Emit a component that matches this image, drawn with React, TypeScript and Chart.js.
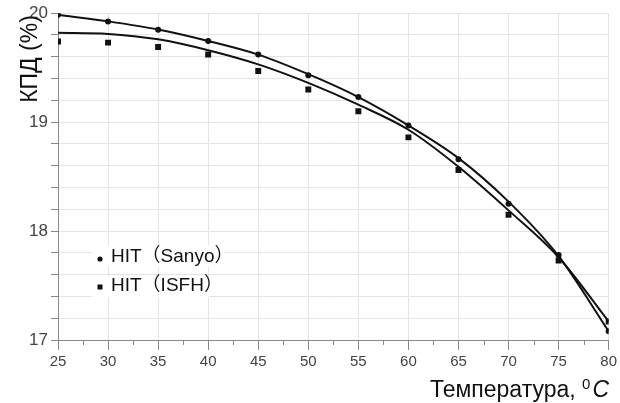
import React, { useEffect, useRef } from "react";
import { Chart, registerables } from "chart.js";

Chart.register(...registerables);

const temps = [25, 30, 35, 40, 45, 50, 55, 60, 65, 70, 75, 80];
const sanyoPoints = [19.985, 19.924, 19.848, 19.745, 19.62, 19.43, 19.23, 18.97, 18.66, 18.25, 17.78, 17.08];
const isfhPoints = [19.74, 19.73, 19.69, 19.62, 19.47, 19.3, 19.1, 18.86, 18.56, 18.15, 17.73, 17.17];
const sanyoFit = [19.985, 19.925, 19.85, 19.745, 19.62, 19.44, 19.23, 18.97, 18.67, 18.27, 17.77, 17.08];
const isfhFit = [19.82, 19.81, 19.76, 19.66, 19.53, 19.36, 19.16, 18.93, 18.59, 18.19, 17.76, 17.17];
const yTicksMajor = [17, 18, 19, 20];
const legendLabels = ["HIT（Sanyo）", "HIT（ISFH）"];
const xTitle = "Температура, ";
const xTitleSup = "0";
const xTitleUnit = "C";
const yTitle = "КПД (%)";

const FONT = '"Liberation Sans", Arial, "Noto Sans CJK JP", sans-serif';

const toXY = (ys: number[]) => temps.map((t, i) => ({ x: t, y: ys[i] }));

const decorPlugin = {
  id: "decor",
  afterDraw(chart: any) {
    const ctx = chart.ctx as CanvasRenderingContext2D;
    const xs = chart.scales.x;
    const area = chart.chartArea;
    ctx.save();
    // minor x ticks
    ctx.strokeStyle = "#888";
    ctx.lineWidth = 1;
    xs.ticks.forEach((t: any) => {
      const v = t.value + 2.5;
      if (v < xs.max) {
        const px = Math.round(xs.getPixelForValue(v)) + 0.5;
        ctx.beginPath();
        ctx.moveTo(px, area.bottom);
        ctx.lineTo(px, area.bottom + 5);
        ctx.stroke();
      }
    });
    // y title
    ctx.fillStyle = "#111";
    ctx.save();
    ctx.translate(31, 59);
    ctx.rotate(-Math.PI / 2);
    ctx.font = `23px ${FONT}`;
    ctx.textAlign = "center";
    ctx.textBaseline = "middle";
    ctx.fillText(yTitle, 0, 0);
    ctx.restore();
    // x title
    const f1 = `23px ${FONT}`;
    const f2 = `15px ${FONT}`;
    const f3 = `italic 23px ${FONT}`;
    ctx.font = f1;
    const w1 = ctx.measureText(xTitle).width;
    ctx.font = f2;
    const w2 = ctx.measureText(xTitleSup).width;
    ctx.font = f3;
    const w3 = ctx.measureText(xTitleUnit).width;
    const total = w1 + w2 + 2 + w3;
    let sx = 609 - total;
    const base = 397;
    ctx.textAlign = "left";
    ctx.textBaseline = "alphabetic";
    ctx.font = f1;
    ctx.fillText(xTitle, sx, base);
    sx += w1;
    ctx.font = f2;
    ctx.fillText(xTitleSup, sx, base - 8);
    sx += w2 + 2;
    ctx.font = f3;
    ctx.fillText(xTitleUnit, sx, base);
    // legend
    ctx.fillStyle = "#fff";
    ctx.fillRect(92, 245, 132, 22);
    ctx.fillRect(92, 277, 117, 20);
    ctx.fillStyle = "#111";
    ctx.beginPath();
    ctx.arc(100, 259, 2.6, 0, Math.PI * 2);
    ctx.fill();
    ctx.fillRect(97.5, 284.5, 5, 5);
    ctx.font = `19px ${FONT}`;
    ctx.textBaseline = "middle";
    ctx.fillText(legendLabels[0], 111, 257);
    ctx.fillText(legendLabels[1], 111, 286);
    ctx.restore();
  },
};

export default function App() {
  const ref = useRef<HTMLCanvasElement>(null);
  useEffect(() => {
    document.body.style.margin = "0";
    const canvas = ref.current!;
    Chart.defaults.font.family = FONT;
    const chart = new Chart(canvas, {
      type: "scatter",
      data: {
        datasets: [
          {
            label: "Sanyo fit",
            data: toXY(sanyoFit),
            showLine: true,
            borderColor: "#111",
            borderWidth: 2,
            pointRadius: 0,
            tension: 0.4,
            cubicInterpolationMode: "monotone",
          },
          {
            label: "ISFH fit",
            data: toXY(isfhFit),
            showLine: true,
            borderColor: "#111",
            borderWidth: 2,
            pointRadius: 0,
            tension: 0.4,
            cubicInterpolationMode: "monotone",
          },
          {
            label: legendLabels[0],
            data: toXY(sanyoPoints),
            pointStyle: "circle",
            pointRadius: 3,
            backgroundColor: "#111",
            borderColor: "#111",
            borderWidth: 0,
          },
          {
            label: legendLabels[1],
            data: toXY(isfhPoints),
            pointStyle: "rect",
            pointRadius: 4.2,
            backgroundColor: "#111",
            borderColor: "#111",
            borderWidth: 0,
          },
        ],
      } as any,
      options: {
        animation: false,
        responsive: false,
        layout: { padding: { top: 11, right: 10, left: 0, bottom: 0 } },
        plugins: { legend: { display: false }, tooltip: { enabled: false } },
        scales: {
          x: {
            type: "linear",
            min: 25,
            max: 80,
            afterFit: (s: any) => {
              s.height = 63;
            },
            ticks: {
              stepSize: 5,
              autoSkip: false,
              maxRotation: 0,
              color: "#444",
              font: { size: 15 },
              padding: 3,
            },
            grid: { color: "#e4e4e4", tickColor: "#888", tickLength: 10 },
            border: { color: "#888", width: 1 },
          },
          y: {
            min: 17,
            max: 20,
            afterFit: (s: any) => {
              s.width = 58;
            },
            ticks: {
              stepSize: 0.2,
              autoSkip: false,
              color: "#444",
              font: { size: 17 },
              padding: 3,
              callback: (v: any) => {
                const r = Math.round(v);
                return Math.abs(v - r) < 1e-6 && yTicksMajor.includes(r) ? String(r) : "";
              },
            },
            grid: { color: "#e4e4e4", tickColor: "#888", tickLength: 7 },
            border: { color: "#888", width: 1 },
          },
        },
      },
      plugins: [decorPlugin],
    });
    return () => chart.destroy();
  }, []);
  return (
    <div style={{ width: 620, height: 403, background: "#fff" }}>
      <canvas ref={ref} width={620} height={403} />
    </div>
  );
}
